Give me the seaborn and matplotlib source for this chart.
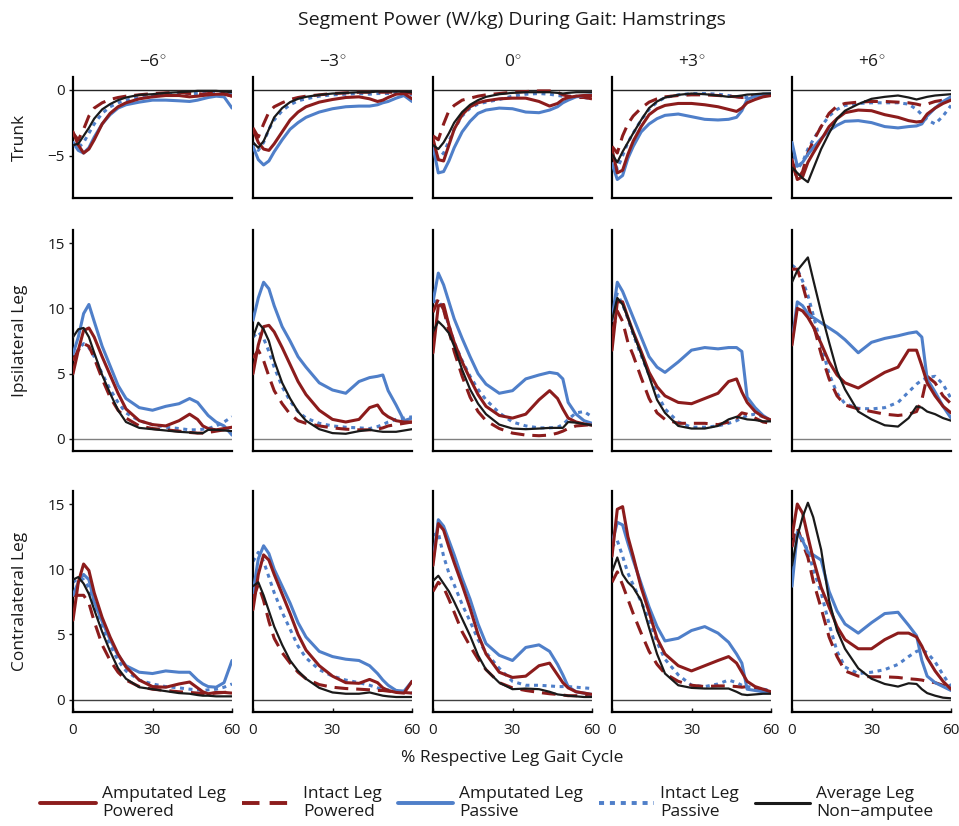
import matplotlib
matplotlib.use("Agg")
import matplotlib.pyplot as plt
from matplotlib.lines import Line2D
import seaborn as sns
import pandas as pd

# ---------------- data ----------------
X = [0, 2, 4, 6, 8, 11, 14, 17, 20, 25, 30, 35, 40, 44, 47, 49, 51, 54, 57, 60]
ANGLES = ["\u22126", "\u22123", "0", "+3", "+6"]
ROWS = ["Trunk", "Ipsilateral Leg", "Contralateral Leg"]
SERIES = ["Amputated Leg\nPowered", "Intact Leg\nPowered", "Amputated Leg\nPassive",
          "Intact Leg\nPassive", "Average Leg\nNon\u2212amputee"]

# Trunk row (one list per angle: -6, -3, 0, +3, +6)
TRUNK_AMP_POW = [
    [-3.2, -4.2, -4.8, -4.5, -3.8, -2.6, -1.8, -1.3, -1.0, -0.7, -0.55, -0.45, -0.45, -0.55, -0.5, -0.45, -0.4, -0.35, -0.35, -0.5],
    [-3.0, -4.0, -4.5, -4.6, -4.1, -3.2, -2.3, -1.7, -1.3, -0.95, -0.75, -0.6, -0.55, -0.7, -0.9, -0.8, -0.6, -0.35, -0.3, -0.7],
    [-3.7, -5.3, -5.4, -4.2, -3.0, -1.9, -1.3, -1.0, -0.85, -0.7, -0.65, -0.65, -0.9, -1.25, -1.05, -0.75, -0.6, -0.5, -0.45, -0.45],
    [-4.5, -6.3, -6.1, -4.9, -3.9, -2.8, -1.9, -1.45, -1.2, -1.05, -1.05, -1.15, -1.3, -1.5, -1.65, -1.4, -1.0, -0.75, -0.55, -0.45],
    [-5.3, -6.8, -6.6, -5.5, -4.8, -3.8, -2.8, -2.2, -1.75, -1.55, -1.6, -1.9, -2.1, -2.35, -2.45, -2.4, -1.85, -1.4, -1.05, -0.8],
]
TRUNK_INT_POW = [
    [-3.3, -3.8, -3.0, -2.0, -1.4, -1.0, -0.75, -0.6, -0.5, -0.4, -0.3, -0.25, -0.2, -0.3, -0.3, -0.35, -0.3, -0.3, -0.3, -0.5],
    [-2.9, -3.6, -2.6, -1.7, -1.3, -1.0, -0.75, -0.6, -0.5, -0.4, -0.3, -0.25, -0.2, -0.2, -0.2, -0.2, -0.2, -0.2, -0.2, -0.3],
    [-3.5, -3.8, -2.6, -1.6, -1.2, -0.8, -0.65, -0.5, -0.4, -0.3, -0.2, -0.15, -0.1, -0.1, -0.2, -0.4, -0.5, -0.6, -0.6, -0.7],
    [-4.3, -4.8, -3.5, -2.6, -2.0, -1.4, -0.95, -0.7, -0.55, -0.45, -0.4, -0.4, -0.45, -0.5, -0.55, -0.6, -0.55, -0.45, -0.4, -0.35],
    [-5.5, -6.8, -6.2, -4.8, -3.9, -2.8, -1.8, -1.25, -1.05, -0.95, -0.9, -0.9, -0.95, -1.0, -1.1, -1.2, -1.1, -0.9, -0.8, -0.7],
]
TRUNK_AMP_PAS = [
    [-4.0, -4.6, -4.8, -4.4, -3.6, -2.6, -1.9, -1.4, -1.15, -0.95, -0.8, -0.8, -0.85, -0.9, -0.8, -0.7, -0.6, -0.5, -0.55, -1.4],
    [-4.3, -5.3, -5.7, -5.4, -4.7, -3.8, -3.0, -2.5, -2.1, -1.7, -1.45, -1.3, -1.25, -1.25, -1.15, -1.0, -0.9, -0.65, -0.45, -0.9],
    [-4.3, -6.3, -6.2, -5.4, -4.4, -3.2, -2.4, -1.8, -1.55, -1.4, -1.45, -1.7, -1.75, -1.55, -1.3, -1.0, -0.8, -0.55, -0.45, -0.4],
    [-5.6, -6.8, -6.5, -5.2, -4.3, -3.2, -2.6, -2.2, -1.95, -1.85, -2.05, -2.25, -2.3, -2.25, -2.1, -1.6, -0.75, -0.5, -0.35, -0.3],
    [-4.0, -5.8, -5.5, -4.9, -4.4, -3.7, -3.1, -2.7, -2.4, -2.35, -2.5, -2.8, -2.9, -2.8, -2.75, -2.6, -2.0, -1.4, -0.9, -0.55],
]
TRUNK_INT_PAS = [
    [-4.0, -4.4, -4.0, -3.3, -2.6, -1.8, -1.3, -1.0, -0.8, -0.6, -0.5, -0.4, -0.35, -0.3, -0.3, -0.3, -0.3, -0.3, -0.3, -0.4],
    [-4.0, -4.6, -4.0, -3.0, -2.3, -1.6, -1.15, -0.85, -0.7, -0.5, -0.4, -0.35, -0.3, -0.35, -0.3, -0.3, -0.3, -0.25, -0.25, -0.4],
    [-4.4, -5.2, -4.8, -3.9, -3.0, -2.0, -1.4, -1.1, -0.95, -0.75, -0.5, -0.35, -0.3, -0.35, -0.45, -0.5, -0.5, -0.5, -0.6, -0.7],
    [-5.2, -6.0, -5.0, -4.0, -3.3, -2.3, -1.5, -0.95, -0.6, -0.4, -0.3, -0.3, -0.35, -0.45, -0.55, -0.6, -0.6, -0.5, -0.4, -0.35],
    [-5.0, -6.0, -5.5, -4.5, -3.8, -2.8, -2.0, -1.5, -1.2, -1.05, -1.0, -1.0, -1.0, -1.1, -1.5, -1.9, -2.3, -2.6, -2.0, -1.2],
]
TRUNK_AVG = [
    [-4.2, -4.1, -3.5, -2.9, -2.2, -1.5, -1.1, -0.8, -0.6, -0.4, -0.35, -0.25, -0.2, -0.15, -0.1, -0.1, -0.1, -0.1, -0.15, -0.2],
    [-4.0, -4.4, -3.9, -3.0, -2.1, -1.4, -0.95, -0.7, -0.55, -0.4, -0.3, -0.25, -0.2, -0.2, -0.15, -0.15, -0.15, -0.15, -0.15, -0.2],
    [-4.2, -4.5, -4.0, -3.3, -2.5, -1.7, -1.15, -0.8, -0.55, -0.35, -0.25, -0.2, -0.2, -0.2, -0.25, -0.3, -0.25, -0.2, -0.2, -0.2],
    [-4.9, -5.5, -4.7, -4.0, -3.3, -2.3, -1.4, -0.9, -0.6, -0.4, -0.3, -0.35, -0.45, -0.55, -0.5, -0.45, -0.38, -0.35, -0.3, -0.3],
    [-5.9, -6.3, -6.7, -7.0, -6.0, -4.5, -3.3, -2.2, -1.6, -1.1, -0.7, -0.55, -0.45, -0.6, -0.75, -0.65, -0.55, -0.45, -0.4, -0.35],
]

# Ipsilateral leg row
IPSI_AMP_POW = [
    [5.0, 6.8, 8.3, 8.5, 7.8, 6.3, 4.9, 3.5, 2.3, 1.4, 1.1, 1.0, 1.4, 1.9, 1.5, 1.0, 0.8, 0.7, 0.8, 0.9],
    [5.0, 7.2, 8.6, 8.7, 8.2, 7.0, 5.7, 4.4, 3.4, 2.2, 1.5, 1.3, 1.5, 2.4, 2.6, 2.0, 1.7, 1.4, 1.3, 1.3],
    [6.6, 10.2, 10.3, 8.7, 7.4, 5.9, 4.6, 3.4, 2.5, 1.8, 1.6, 1.9, 3.0, 3.7, 3.1, 2.3, 1.6, 1.3, 1.15, 1.05],
    [6.8, 10.5, 10.5, 9.3, 8.2, 6.7, 5.1, 4.0, 3.3, 2.8, 2.7, 3.1, 3.5, 4.4, 4.6, 3.6, 2.8, 2.1, 1.7, 1.45],
    [7.2, 10.0, 9.8, 9.3, 8.6, 7.3, 5.9, 4.9, 4.3, 3.9, 4.5, 5.1, 5.5, 6.8, 6.8, 5.6, 4.3, 3.3, 2.5, 2.0],
]
IPSI_INT_POW = [
    [6.0, 6.8, 7.3, 7.1, 6.2, 4.6, 3.2, 2.2, 1.6, 1.0, 0.8, 0.7, 0.6, 0.5, 0.45, 0.45, 0.5, 0.6, 0.7, 0.8],
    [6.2, 6.8, 6.0, 4.8, 3.7, 2.7, 1.9, 1.4, 1.2, 1.0, 0.85, 0.75, 0.7, 0.7, 0.75, 0.85, 1.0, 1.1, 1.2, 1.3],
    [9.7, 10.7, 9.9, 8.3, 6.7, 4.8, 3.2, 2.1, 1.4, 0.8, 0.45, 0.3, 0.25, 0.3, 0.45, 0.6, 0.8, 1.0, 1.05, 1.1],
    [8.0, 9.8, 9.0, 7.4, 6.4, 4.7, 3.1, 2.0, 1.5, 1.2, 1.2, 1.2, 1.1, 1.3, 1.6, 2.0, 1.9, 1.6, 1.3, 1.2],
    [13.0, 13.0, 11.8, 10.3, 8.8, 6.5, 4.6, 3.3, 2.6, 2.3, 2.1, 1.9, 1.8, 1.9, 2.1, 3.0, 4.8, 4.3, 3.3, 2.7],
]
IPSI_AMP_PAS = [
    [6.5, 7.8, 9.6, 10.3, 9.0, 7.1, 5.6, 4.1, 3.1, 2.4, 2.2, 2.5, 2.7, 3.1, 2.8, 2.3, 1.8, 1.3, 1.0, 0.3],
    [9.1, 10.8, 12.0, 11.5, 10.2, 8.6, 7.5, 6.3, 5.5, 4.3, 3.75, 3.5, 4.4, 4.7, 4.8, 4.9, 3.7, 2.6, 1.4, 1.6],
    [10.5, 12.7, 11.8, 10.5, 9.2, 7.7, 6.3, 5.0, 4.2, 3.5, 3.7, 4.6, 4.9, 5.1, 5.0, 4.6, 2.8, 1.9, 1.4, 1.2],
    [9.1, 12.0, 11.3, 10.3, 9.3, 7.8, 6.3, 5.5, 5.1, 5.9, 6.8, 7.0, 6.9, 7.0, 7.0, 6.7, 3.2, 2.4, 1.8, 1.4],
    [7.4, 10.5, 10.2, 9.6, 9.3, 8.9, 8.5, 8.1, 7.6, 6.6, 7.4, 7.7, 7.9, 8.1, 8.2, 7.8, 4.6, 3.6, 2.5, 1.6],
]
IPSI_INT_PAS = [
    [6.0, 6.9, 7.3, 7.0, 6.3, 5.0, 3.8, 2.8, 2.0, 1.4, 1.1, 0.9, 0.8, 0.7, 0.7, 0.75, 0.8, 1.0, 1.3, 1.7],
    [7.8, 8.2, 7.7, 6.7, 5.5, 4.0, 2.9, 2.1, 1.6, 1.2, 1.0, 0.9, 0.85, 0.8, 0.95, 1.1, 1.3, 1.5, 1.6, 1.7],
    [10.5, 10.6, 9.9, 8.7, 7.4, 6.0, 4.8, 3.8, 3.0, 2.0, 1.3, 1.0, 0.85, 0.85, 0.9, 1.1, 1.5, 2.0, 2.1, 1.7],
    [10.3, 11.1, 10.3, 9.2, 8.0, 6.4, 4.9, 3.5, 2.3, 1.3, 0.9, 0.9, 1.0, 1.2, 1.4, 1.6, 1.8, 1.9, 1.7, 1.4],
    [13.3, 13.0, 12.1, 11.0, 9.5, 7.2, 5.0, 3.5, 2.7, 2.35, 2.3, 2.4, 2.8, 3.6, 4.2, 4.5, 4.7, 4.8, 4.2, 3.1],
]
IPSI_AVG = [
    [7.8, 8.4, 8.5, 7.8, 6.6, 4.9, 3.5, 2.2, 1.3, 0.85, 0.75, 0.65, 0.55, 0.5, 0.45, 0.45, 0.7, 0.7, 0.65, 0.6],
    [7.8, 8.9, 8.4, 7.5, 6.0, 4.3, 3.1, 2.1, 1.4, 0.75, 0.45, 0.4, 0.6, 0.7, 0.6, 0.55, 0.55, 0.55, 0.65, 0.75],
    [8.2, 9.0, 8.6, 8.1, 7.1, 5.3, 3.8, 2.7, 1.9, 1.1, 0.8, 0.75, 0.8, 0.85, 0.85, 0.85, 1.3, 1.25, 1.15, 1.05],
    [9.1, 10.8, 10.3, 9.3, 8.1, 6.5, 4.8, 3.0, 2.0, 1.0, 0.8, 0.8, 1.0, 1.5, 1.7, 1.6, 1.5, 1.45, 1.35, 1.35],
    [12.0, 12.9, 13.4, 13.9, 12.2, 9.7, 7.4, 5.2, 3.8, 2.1, 1.5, 1.05, 0.95, 1.6, 2.5, 2.4, 2.1, 1.9, 1.6, 1.4],
]

# Contralateral leg row
CONTRA_AMP_POW = [
    [6.1, 9.0, 10.4, 9.9, 8.2, 6.3, 4.8, 3.5, 2.5, 1.5, 1.0, 0.95, 1.2, 1.35, 0.9, 0.6, 0.45, 0.55, 0.55, 0.5],
    [6.9, 9.6, 11.1, 10.7, 9.6, 8.1, 6.6, 5.0, 3.8, 2.6, 1.8, 1.3, 1.25, 1.55, 1.3, 0.9, 0.7, 0.55, 0.5, 1.4],
    [10.3, 13.5, 13.0, 11.7, 10.5, 8.8, 7.0, 5.0, 3.5, 2.1, 1.7, 1.8, 2.6, 2.8, 1.9, 1.3, 0.9, 0.6, 0.5, 0.4],
    [11.0, 14.6, 14.8, 12.5, 11.0, 8.6, 6.7, 4.7, 3.5, 2.6, 2.2, 2.6, 3.0, 3.3, 2.8, 2.1, 1.4, 1.0, 0.8, 0.6],
    [12.5, 15.0, 14.3, 12.5, 10.8, 8.6, 7.1, 5.6, 4.6, 3.9, 3.9, 4.6, 5.1, 5.1, 4.8, 4.1, 3.2, 2.2, 1.4, 0.8],
]
CONTRA_INT_POW = [
    [8.0, 8.0, 8.0, 7.4, 6.0, 4.2, 3.0, 2.1, 1.5, 1.0, 0.8, 0.7, 0.6, 0.55, 0.5, 0.45, 0.45, 0.5, 0.55, 0.6],
    [7.8, 8.8, 7.6, 6.0, 4.7, 3.6, 2.8, 2.1, 1.6, 1.15, 0.95, 0.85, 0.8, 0.75, 0.7, 0.7, 0.65, 0.6, 0.55, 0.5],
    [8.3, 9.0, 8.6, 7.7, 6.7, 5.2, 4.1, 3.1, 2.3, 1.3, 0.9, 0.7, 0.55, 0.45, 0.4, 0.35, 0.3, 0.3, 0.25, 0.25],
    [9.0, 9.8, 8.8, 7.7, 6.6, 5.1, 3.7, 2.7, 2.0, 1.4, 1.1, 1.0, 1.05, 1.05, 1.0, 0.95, 1.0, 0.9, 0.75, 0.6],
    [11.7, 13.2, 12.0, 10.9, 9.1, 7.0, 4.8, 3.3, 2.2, 1.8, 1.75, 1.75, 1.7, 1.6, 1.55, 1.5, 1.4, 1.3, 1.1, 0.8],
]
CONTRA_AMP_PAS = [
    [8.0, 9.0, 9.6, 9.2, 7.5, 6.0, 4.6, 3.4, 2.6, 2.1, 2.0, 2.2, 2.1, 2.1, 1.5, 1.2, 1.0, 0.95, 1.3, 3.0],
    [8.2, 10.8, 11.8, 11.2, 10.0, 8.7, 7.4, 5.9, 4.8, 3.7, 3.3, 3.1, 3.0, 2.6, 2.0, 1.5, 1.1, 0.7, 0.65, 1.4],
    [10.6, 13.8, 13.3, 12.2, 11.1, 9.3, 7.7, 5.8, 4.3, 3.4, 3.0, 4.0, 4.2, 3.7, 2.7, 1.9, 1.0, 0.6, 0.5, 0.4],
    [12.0, 13.6, 13.4, 12.0, 10.7, 8.9, 7.1, 5.6, 4.5, 4.7, 5.3, 5.6, 5.1, 4.4, 3.5, 2.8, 0.8, 0.7, 0.6, 0.6],
    [8.7, 12.8, 12.2, 11.3, 11.1, 10.7, 8.3, 6.8, 5.8, 5.1, 5.9, 6.6, 6.7, 5.7, 4.9, 3.0, 1.8, 1.3, 1.0, 0.7],
]
CONTRA_INT_PAS = [
    [9.0, 9.3, 9.2, 8.6, 7.3, 5.6, 4.2, 3.0, 2.2, 1.5, 1.2, 1.0, 0.9, 0.8, 0.75, 0.7, 0.75, 0.8, 0.95, 1.2],
    [10.6, 11.3, 10.6, 9.4, 8.2, 6.7, 5.4, 4.1, 3.2, 2.3, 1.8, 1.5, 1.3, 1.1, 0.9, 0.8, 0.75, 0.7, 0.6, 0.5],
    [12.6, 12.8, 11.0, 9.7, 8.8, 7.3, 6.0, 4.6, 3.6, 2.4, 1.4, 1.1, 1.1, 1.05, 1.0, 1.0, 1.0, 0.95, 0.9, 0.85],
    [11.7, 12.2, 11.0, 9.7, 8.8, 7.5, 6.1, 4.4, 3.1, 1.9, 1.1, 1.0, 1.2, 1.5, 1.3, 1.1, 1.0, 0.9, 0.8, 0.7],
    [12.5, 13.0, 12.3, 11.4, 10.0, 8.2, 5.8, 3.7, 2.5, 2.0, 2.1, 2.3, 2.7, 3.3, 3.7, 3.8, 3.6, 2.9, 1.9, 1.0],
]
CONTRA_AVG = [
    [9.2, 9.4, 8.9, 8.1, 6.9, 5.2, 3.7, 2.4, 1.6, 0.95, 0.8, 0.65, 0.5, 0.45, 0.35, 0.3, 0.3, 0.25, 0.25, 0.25],
    [8.7, 9.0, 8.0, 6.8, 5.6, 4.2, 3.0, 2.2, 1.6, 0.9, 0.55, 0.45, 0.45, 0.55, 0.4, 0.3, 0.25, 0.2, 0.2, 0.2],
    [9.1, 9.5, 8.9, 8.3, 7.5, 6.2, 4.9, 3.4, 2.3, 1.3, 0.8, 0.85, 0.8, 0.6, 0.4, 0.35, 0.3, 0.25, 0.2, 0.2],
    [9.8, 10.9, 9.6, 9.0, 8.6, 7.6, 5.5, 3.5, 2.0, 1.1, 0.9, 0.85, 0.85, 0.85, 0.6, 0.4, 0.35, 0.4, 0.45, 0.45],
    [10.3, 12.5, 14.0, 15.1, 14.0, 11.5, 7.6, 5.3, 3.9, 2.4, 1.6, 1.2, 1.0, 1.25, 1.2, 0.8, 0.5, 0.3, 0.15, 0.1],
]

ROW_DATA = [
    [TRUNK_INT_PAS, TRUNK_INT_POW, TRUNK_AMP_PAS, TRUNK_AMP_POW, TRUNK_AVG],
    [IPSI_INT_PAS, IPSI_INT_POW, IPSI_AMP_PAS, IPSI_AMP_POW, IPSI_AVG],
    [CONTRA_INT_PAS, CONTRA_INT_POW, CONTRA_AMP_PAS, CONTRA_AMP_POW, CONTRA_AVG],
]

# ---------------- style ----------------
sns.set_theme(style="white")
plt.rcParams["font.family"] = ["Open Sans", "DejaVu Sans"]
plt.rcParams["mathtext.fontset"] = "custom"
plt.rcParams["mathtext.rm"] = "Open Sans"

RED = "#8C1C1C"
BLUE = "#4F7FC9"
BLACK = "#1A1A1A"
LW = 2.2
# styles in drawing order: int passive, int powered, amp passive, amp powered, average
STYLES = [
    dict(color=BLUE, lw=LW, ls=(0, (1.3, 1.5))),
    dict(color=RED, lw=LW, ls=(0, (4.5, 2.6))),
    dict(color=BLUE, lw=LW, ls="-"),
    dict(color=RED, lw=LW, ls="-"),
    dict(color=BLACK, lw=1.6, ls="-"),
]

W, H = 959, 826
fig = plt.figure(figsize=(W / 100, H / 100), dpi=100)

col_left = [73, 253, 433, 612, 792]
col_w = 159
row_tb = [(77, 198), (230, 451), (491, 712)]
ylims = [(-8.2, 0.95), (-0.92, 16), (-0.95, 16)]
yticks = [[-5, 0], [0, 5, 10, 15], [0, 5, 10, 15]]
zero_col = ["0.15", "0.5", "0.25"]

for r in range(3):
    top, bot = row_tb[r]
    for c in range(5):
        ax = fig.add_axes([col_left[c] / W, 1 - bot / H, col_w / W, (bot - top) / H])
        ax.axhline(0, color=zero_col[r], lw=1.0, zorder=1)
        for s in range(5):
            st = STYLES[s]
            df = pd.DataFrame({"x": X, "y": ROW_DATA[r][s][c]})
            sns.lineplot(data=df, x="x", y="y", ax=ax, estimator=None, sort=False,
                         color=st["color"], linewidth=st["lw"], linestyle=st["ls"],
                         zorder=2 + s)
        ax.set_xlim(0, 60)
        ax.set_ylim(*ylims[r])
        ax.set_xlabel("")
        ax.set_ylabel("")
        for sp in ["top", "right"]:
            ax.spines[sp].set_visible(False)
        for sp in ["left", "bottom"]:
            ax.spines[sp].set_color("black")
            ax.spines[sp].set_linewidth(1.6)
        if r == 2:
            ax.set_xticks([0, 30, 60])
            ax.set_xticklabels(["0", "30", "60"])
            ax.tick_params(axis="x", direction="in", length=3, width=1, pad=8,
                           labelsize=11, colors=BLACK, bottom=True)
        else:
            ax.set_xticks([])
        if c == 0:
            ax.set_yticks(yticks[r])
            ax.set_yticklabels([str(v).replace("-", "\u2212") for v in yticks[r]])
            ax.tick_params(axis="y", direction="out", length=3, width=1, pad=3,
                           labelsize=11, colors=BLACK, left=True)
        else:
            ax.set_yticks([])
        if r == 0:
            ax.set_title(ANGLES[c] + r"$^{\circ}$", fontsize=12.5, pad=7, color=BLACK)

# row labels
for r, lab in enumerate(ROWS):
    top, bot = row_tb[r]
    fig.text(20 / W, 1 - (top + bot) / 2 / H, lab, rotation=90, ha="center",
             va="center", fontsize=12.5, color=BLACK)

fig.text(512 / W, 1 - 20 / H, "Segment Power (W/kg) During Gait: Hamstrings",
         ha="center", va="center", fontsize=14, color=BLACK)
fig.text(512 / W, 1 - 758 / H, "% Respective Leg Gait Cycle",
         ha="center", va="center", fontsize=12.5, color=BLACK)

# legend (order as in the reference)
order = [3, 1, 2, 0, 4]
handles = [Line2D([0], [0], color=STYLES[i]["color"], lw=STYLES[i]["lw"] + 0.6,
                  ls=STYLES[i]["ls"]) for i in order]
fig.legend(handles, SERIES, loc="center", bbox_to_anchor=(487 / W, 1 - 803 / H),
           ncol=5, frameon=False, fontsize=12.5, handlelength=3.2,
           handletextpad=0.35, columnspacing=0.9, labelcolor=BLACK)

fig.savefig("out.png", dpi=100)
